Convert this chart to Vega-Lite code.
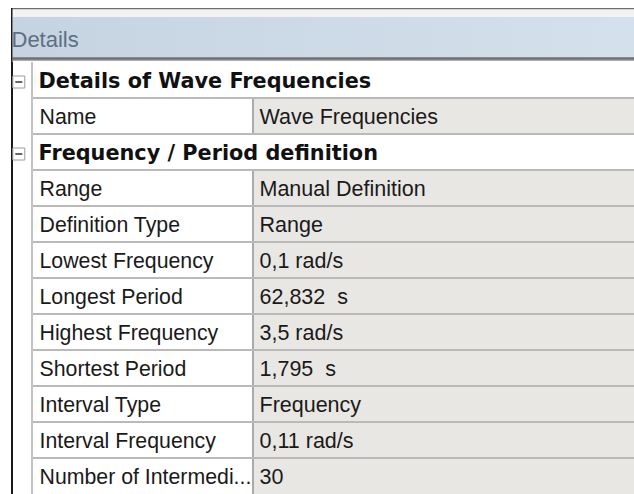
{
  "$schema": "https://vega.github.io/schema/vega-lite/v6.json",
  "background": "white",
  "padding": {"top": 8, "left": 0, "right": 0, "bottom": 0},
  "spacing": 0,
  "config": {"view": {"stroke": null}, "concat": {"spacing": 0}},
  "vconcat": [
    {
      "width": 634,
      "height": 54,
      "data": {"values": [{"title": "Details"}]},
      "layer": [
        {
          "mark": {"type": "rect", "fill": "#6e6e6e"},
          "encoding": {
            "x": {"datum": 11, "type": "quantitative", "scale": {"domain": [0, 634], "nice": false, "zero": false}, "axis": null},
            "x2": {"datum": 634},
            "y": {"datum": 0, "type": "quantitative", "scale": {"domain": [0, 54], "nice": false, "zero": false, "reverse": true}, "axis": null},
            "y2": {"datum": 1.5}
          }
        },
        {
          "mark": {"type": "rect", "fill": "#f2f2f2"},
          "encoding": {
            "x": {"datum": 12.5, "type": "quantitative", "scale": {"domain": [0, 634], "nice": false, "zero": false}, "axis": null},
            "x2": {"datum": 634},
            "y": {"datum": 1.5, "type": "quantitative", "scale": {"domain": [0, 54], "nice": false, "zero": false, "reverse": true}, "axis": null},
            "y2": {"datum": 9}
          }
        },
        {
          "mark": {"type": "rect", "fill": {"gradient": "linear", "x1": 0, "y1": 0, "x2": 1, "y2": 0, "stops": [{"offset": 0, "color": "#c6d3e0"}, {"offset": 1, "color": "#d4e1ed"}]}},
          "encoding": {
            "x": {"datum": 12.5, "type": "quantitative", "scale": {"domain": [0, 634], "nice": false, "zero": false}, "axis": null},
            "x2": {"datum": 634},
            "y": {"datum": 9, "type": "quantitative", "scale": {"domain": [0, 54], "nice": false, "zero": false, "reverse": true}, "axis": null},
            "y2": {"datum": 49}
          }
        },
        {
          "mark": {"type": "rect", "fill": {"gradient": "linear", "x1": 0, "y1": 0, "x2": 0, "y2": 1, "stops": [{"offset": 0, "color": "#9a9a9a"}, {"offset": 0.4, "color": "#6c6c6c"}, {"offset": 0.7, "color": "#8c8c8c"}, {"offset": 1, "color": "#c4c4c4"}]}},
          "encoding": {
            "x": {"datum": 12.5, "type": "quantitative", "scale": {"domain": [0, 634], "nice": false, "zero": false}, "axis": null},
            "x2": {"datum": 634},
            "y": {"datum": 49, "type": "quantitative", "scale": {"domain": [0, 54], "nice": false, "zero": false, "reverse": true}, "axis": null},
            "y2": {"datum": 53}
          }
        },
        {
          "mark": {"type": "rect", "fill": "#1a1a1a"},
          "encoding": {
            "x": {"datum": 11, "type": "quantitative", "scale": {"domain": [0, 634], "nice": false, "zero": false}, "axis": null},
            "x2": {"datum": 12.5},
            "y": {"datum": 0, "type": "quantitative", "scale": {"domain": [0, 54], "nice": false, "zero": false, "reverse": true}, "axis": null},
            "y2": {"datum": 54}
          }
        },
        {
          "mark": {"type": "text", "align": "left", "baseline": "alphabetic", "font": "Liberation Sans", "fontSize": 22, "fill": "#5e6e86"},
          "encoding": {
            "x": {"datum": 11.5, "type": "quantitative", "scale": {"domain": [0, 634], "nice": false, "zero": false}, "axis": null},
            "y": {"datum": 39, "type": "quantitative", "scale": {"domain": [0, 54], "nice": false, "zero": false, "reverse": true}, "axis": null},
            "text": {"field": "title"}
          }
        }
      ]
    },
    {
      "width": 634,
      "height": 432,
      "data": {
        "values": [
          {"row": 0, "kind": "section", "label": "Details of Wave Frequencies", "value": ""},
          {"row": 1, "kind": "prop", "label": "Name", "value": "Wave Frequencies"},
          {"row": 2, "kind": "section", "label": "Frequency / Period definition", "value": ""},
          {"row": 3, "kind": "prop", "label": "Range", "value": "Manual Definition"},
          {"row": 4, "kind": "prop", "label": "Definition Type", "value": "Range"},
          {"row": 5, "kind": "prop", "label": "Lowest Frequency", "value": "0,1 rad/s"},
          {"row": 6, "kind": "prop", "label": "Longest Period", "value": "62,832\u00a0 s"},
          {"row": 7, "kind": "prop", "label": "Highest Frequency", "value": "3,5 rad/s"},
          {"row": 8, "kind": "prop", "label": "Shortest Period", "value": "1,795\u00a0 s"},
          {"row": 9, "kind": "prop", "label": "Interval Type", "value": "Frequency"},
          {"row": 10, "kind": "prop", "label": "Interval Frequency", "value": "0,11 rad/s"},
          {"row": 11, "kind": "prop", "label": "Number of Intermedi...", "value": "30"}
        ]
      },
      "layer": [
        {
          "transform": [{"filter": "datum.kind == 'prop'"}],
          "mark": {"type": "rect", "fill": "#e9e7e3"},
          "encoding": {
            "x": {"datum": 253, "type": "quantitative", "scale": {"domain": [0, 634], "nice": false, "zero": false}, "axis": null},
            "x2": {"datum": 634},
            "y": {"field": "row", "type": "ordinal", "scale": {"type": "band", "paddingInner": 0, "paddingOuter": 0}, "axis": null}
          }
        },
        {
          "transform": [{"filter": "datum.kind == 'prop'"}],
          "mark": {"type": "rect", "fill": "#ababab"},
          "encoding": {
            "x": {"datum": 252, "type": "quantitative", "scale": {"domain": [0, 634], "nice": false, "zero": false}, "axis": null},
            "x2": {"datum": 254},
            "y": {"field": "row", "type": "ordinal", "scale": {"type": "band", "paddingInner": 0, "paddingOuter": 0}, "axis": null}
          }
        },
        {
          "transform": [{"filter": "datum.row > 0"}],
          "mark": {"type": "rule", "stroke": "#bababa", "strokeWidth": 2},
          "encoding": {
            "x": {"datum": 32, "type": "quantitative", "scale": {"domain": [0, 634], "nice": false, "zero": false}, "axis": null},
            "x2": {"datum": 634},
            "y": {"field": "row", "type": "ordinal", "bandPosition": 0, "scale": {"type": "band", "paddingInner": 0, "paddingOuter": 0}, "axis": null}
          }
        },
        {
          "mark": {"type": "rect", "fill": "#c2c2c2"},
          "encoding": {
            "x": {"datum": 31, "type": "quantitative", "scale": {"domain": [0, 634], "nice": false, "zero": false}, "axis": null},
            "x2": {"datum": 33}
          }
        },
        {
          "mark": {"type": "rect", "fill": "#1a1a1a"},
          "encoding": {
            "x": {"datum": 11, "type": "quantitative", "scale": {"domain": [0, 634], "nice": false, "zero": false}, "axis": null},
            "x2": {"datum": 12.5}
          }
        },
        {
          "transform": [{"filter": "datum.kind == 'section'"}],
          "mark": {"type": "point", "shape": "square", "size": 144, "filled": false, "fill": "white", "fillOpacity": 1, "stroke": "#9c9c9c", "strokeWidth": 1, "opacity": 1},
          "encoding": {
            "x": {"datum": 18.8, "type": "quantitative", "scale": {"domain": [0, 634], "nice": false, "zero": false}, "axis": null},
            "y": {"field": "row", "type": "ordinal", "bandPosition": 0.556, "scale": {"type": "band", "paddingInner": 0, "paddingOuter": 0}, "axis": null}
          }
        },
        {
          "transform": [{"filter": "datum.kind == 'section'"}],
          "mark": {"type": "point", "shape": "M-1,0H1", "size": 49, "filled": false, "stroke": "#333333", "strokeWidth": 1.5, "opacity": 1},
          "encoding": {
            "x": {"datum": 18.8, "type": "quantitative", "scale": {"domain": [0, 634], "nice": false, "zero": false}, "axis": null},
            "y": {"field": "row", "type": "ordinal", "bandPosition": 0.556, "scale": {"type": "band", "paddingInner": 0, "paddingOuter": 0}, "axis": null}
          }
        },
        {
          "transform": [{"filter": "datum.kind == 'section'"}],
          "mark": {"type": "text", "align": "left", "baseline": "alphabetic", "font": "DejaVu Sans", "fontWeight": "bold", "fontSize": 20.8, "fill": "#111111"},
          "encoding": {
            "x": {"datum": 38.5, "type": "quantitative", "scale": {"domain": [0, 634], "nice": false, "zero": false}, "axis": null},
            "y": {"field": "row", "type": "ordinal", "bandPosition": 0.714, "scale": {"type": "band", "paddingInner": 0, "paddingOuter": 0}, "axis": null},
            "text": {"field": "label"}
          }
        },
        {
          "transform": [{"filter": "datum.kind == 'prop'"}],
          "mark": {"type": "text", "align": "left", "baseline": "alphabetic", "font": "Liberation Sans", "fontSize": 21.3, "fill": "#1a1a1a"},
          "encoding": {
            "x": {"datum": 39.5, "type": "quantitative", "scale": {"domain": [0, 634], "nice": false, "zero": false}, "axis": null},
            "y": {"field": "row", "type": "ordinal", "bandPosition": 0.714, "scale": {"type": "band", "paddingInner": 0, "paddingOuter": 0}, "axis": null},
            "text": {"field": "label"}
          }
        },
        {
          "transform": [{"filter": "datum.kind == 'prop'"}],
          "mark": {"type": "text", "align": "left", "baseline": "alphabetic", "font": "Liberation Sans", "fontSize": 21.5, "fill": "#1a1a1a"},
          "encoding": {
            "x": {"datum": 259.5, "type": "quantitative", "scale": {"domain": [0, 634], "nice": false, "zero": false}, "axis": null},
            "y": {"field": "row", "type": "ordinal", "bandPosition": 0.714, "scale": {"type": "band", "paddingInner": 0, "paddingOuter": 0}, "axis": null},
            "text": {"field": "value"}
          }
        }
      ]
    }
  ]
}
